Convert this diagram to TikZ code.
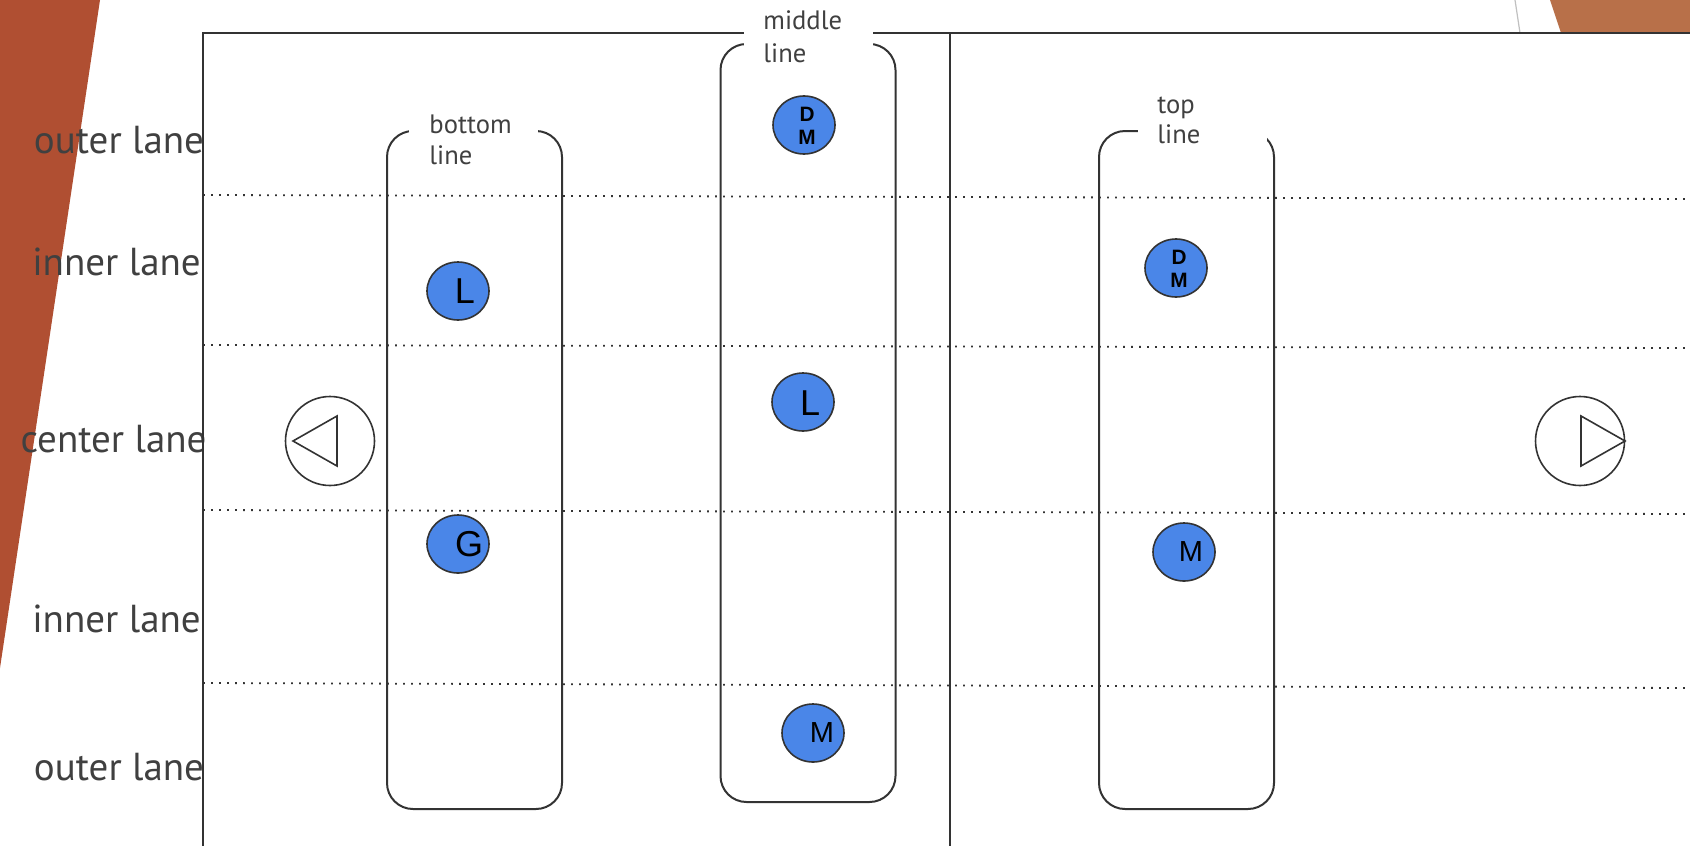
\documentclass[tikz,border=0pt]{standalone}
\usepackage{fontspec}
\setmainfont{PT Sans}
\newfontfamily\glyphfont{Liberation Sans}
\usetikzlibrary{shapes.geometric}
\definecolor{rust}{RGB}{176,79,50}
\definecolor{copper}{RGB}{184,112,73}
\definecolor{ink}{RGB}{64,64,64}
\definecolor{edge}{RGB}{51,51,51}
\definecolor{chipblue}{RGB}{74,134,232}
\definecolor{seam}{RGB}{192,192,192}

\begin{document}
\begin{tikzpicture}[x=0.5pt,y=-0.5pt,
  frame/.style={draw=edge, line width=1pt},
  laneline/.style={draw=edge, line width=0.9pt, dash pattern=on 0.9pt off 3.1pt},
  linebox/.style={draw=edge, line width=1pt, rounded corners=13pt, minimum width=87.5pt, inner sep=0pt},
  gap/.style={fill=white, inner sep=0pt, anchor=north west, minimum width=64.5pt},
  lanelabel/.style={text=ink, font=\fontsize{19.5}{23}\selectfont, inner sep=0pt, anchor=base},
  boxlabel/.style={text=ink, font=\fontsize{13.3}{16}\selectfont, inner sep=0pt, anchor=base west},
  chip/.style={ellipse, draw=edge, fill=chipblue, line width=0.8pt, minimum width=31pt, minimum height=29pt, inner sep=0pt},
  bigtag/.style={font=\glyphfont\fontsize{18}{20}\selectfont, inner sep=0pt},
  midtag/.style={font=\glyphfont\fontsize{14.5}{16}\selectfont, inner sep=0pt},
  duotag/.style={font=\glyphfont\bfseries\fontsize{10.4}{11.4}\selectfont, inner sep=0pt, align=center},
  ring/.style={circle, draw=edge, line width=0.8pt, minimum size=44.5pt, inner sep=0pt},
  arrowhead/.style={draw=edge, line width=0.8pt, line join=miter}
]
\useasboundingbox (0,0) rectangle (1690,846);
\fill[white] (0,0) rectangle (1690,846);

% slide decoration
\fill[rust] (0,0) -- (100,0) -- (0,668) -- cycle;
\fill[copper] (1550,0) -- (1690,0) -- (1690,33) -- (1561,33) -- cycle;
\draw[seam, line width=0.6pt] (1515,0) -- (1520,33);

% field area
\fill[white] (203,33) rectangle (1690,846);

% lane labels
\node[lanelabel] (lab1) at (119,153) {outer lane};
\node[lanelabel] (lab2) at (116.5,275) {inner lane};
\node[lanelabel] (lab3) at (113.5,452) {center lane};
\node[lanelabel] (lab4) at (116.5,632) {inner lane};
\node[lanelabel] (lab5) at (119,780) {outer lane};

% outer frame and halfway line
\draw[frame] (1690,33) -- (203,33) -- (203,846);
\draw[frame] (950,33) -- (950,846);

% lane separators
\draw[laneline] (203,195) -- (1690,199);
\draw[laneline] (203,345) -- (1690,348);
\draw[laneline] (203,510) -- (1690,514);
\draw[laneline] (203,683) -- (1690,688);

% formation lines
\node[linebox, minimum height=339pt] (bottombox) at (474.5,470) {};
\node[linebox, minimum height=379pt] (middlebox) at (808,423) {};
\node[linebox, minimum height=339pt] (topbox) at (1186.5,470) {};

% openings for the line titles
\node[gap, minimum height=27.5pt] (bottomgap) at (409,95) {};
\node[gap, minimum height=25pt] (middlegap) at (744,0) {};
\node[gap, minimum height=35pt] (topgap) at (1138,80) {};

\node[boxlabel] (bottomt1) at (429,133) {bottom};
\node[boxlabel] (bottomt2) at (429,164) {line};
\node[boxlabel] (middlet1) at (763,29) {middle};
\node[boxlabel] (middlet2) at (763,62) {line};
\node[boxlabel] (topt1) at (1157,113) {top};
\node[boxlabel] (topt2) at (1157,143) {line};

% players
\node[chip] (pL1) at (458,291) {};
\node[bigtag] (tL1) at (465,291) {L};
\node[chip] (pG) at (458,544) {};
\node[bigtag] (tG) at (469,544) {G};

\node[chip] (pDM1) at (804,125) {};
\node[duotag] (tDM1) at (807,125.5) {D\\M};
\node[chip] (pL2) at (803,402) {};
\node[bigtag] (tL2) at (810,403) {L};
\node[chip] (pM1) at (813,733) {};
\node[midtag] (tM1) at (822,733) {M};

\node[chip] (pDM2) at (1176,268) {};
\node[duotag] (tDM2) at (1179,269) {D\\M};
\node[chip] (pM2) at (1184,552) {};
\node[midtag] (tM2) at (1191,552) {M};

% direction markers
\node[ring] (back) at (330,441) {};
\draw[arrowhead] (back.center) ++(-37,0) -- ++(44,-25) -- ++(0,50) -- cycle;
\node[ring] (fwd) at (1580,441) {};
\draw[arrowhead] (fwd.center) ++(1,-25) -- ++(0,50) -- ++(44,-25) -- cycle;
\end{tikzpicture}
\end{document}
